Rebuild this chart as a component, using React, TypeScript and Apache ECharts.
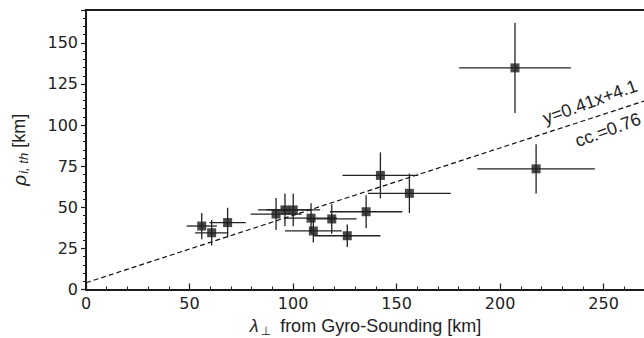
import React, { useEffect, useRef } from "react";
import * as echarts from "echarts";

const xVals = [55.9, 60.7, 68.4, 91.8, 96.1, 100.1, 108.7, 118.7, 109.8, 126.2, 135.3, 142.2, 156.2, 207.2, 217.4];
const yVals = [38.6, 34.5, 40.7, 45.9, 48.4, 48.4, 43.4, 42.9, 35.6, 32.7, 47.3, 69.4, 58.5, 134.8, 73.4];
const xErr = [7.3, 8, 8.8, 12.3, 13, 13, 12.5, 12, 13.7, 16, 17.5, 18.3, 20, 27, 28.4];
const yErr = [8, 7.7, 9, 9.7, 10, 10, 9, 9, 7, 6.8, 10, 14, 12, 27.5, 15];
const fitSlope = 0.41;
const fitIntercept = 4.1;
const fitText = "y=0.41x+4.1";
const ccText = "cc.=0.76";
const xMax = 270;
const yMax = 170;

const INK = "#1c1c1c";

export default function App() {
  const ref = useRef<HTMLDivElement>(null);
  useEffect(() => {
    document.body.style.margin = "0";
    const chart = echarts.init(ref.current!, null, { renderer: "svg" });
    const pts = xVals.map((x, i) => [x, yVals[i]]);
    const errData = xVals.map((x, i) => [x, yVals[i], xErr[i], yErr[i]]);
    const fitData = [
      [0, fitIntercept],
      [xMax, fitSlope * xMax + fitIntercept],
    ];
    const rot = (20 * Math.PI) / 180;
    chart.setOption({
      animation: false,
      backgroundColor: "#ffffff",
      grid: { left: 86, top: 10, right: -1, bottom: 48.5, containLabel: false, outerBoundsMode: "none" },
      xAxis: [
        {
          type: "value",
          min: 0,
          max: xMax,
          interval: 50,
          position: "bottom",
          axisLine: { show: true, onZero: false, lineStyle: { color: INK, width: 2 } },
          axisTick: { show: true, inside: true, length: 6, lineStyle: { color: INK, width: 1.2 } },
          minorTick: { show: true, splitNumber: 5, length: 3, lineStyle: { color: INK, width: 1 } },
          splitLine: { show: false },
          axisLabel: {
            color: "#222",
            fontSize: 16,
            fontFamily: "DejaVu Sans",
            margin: 6,
            showMaxLabel: false,
          },
          name: "{l|λ}{sub|⊥}{n| from Gyro-Sounding [km]}",
          nameLocation: "middle",
          nameGap: 25,
          nameTextStyle: {
            rich: {
              l: { fontSize: 18, fontStyle: "italic", fontFamily: "Liberation Sans", color: "#222", lineHeight: 22, verticalAlign: "middle" },
              sub: { fontSize: 12, fontFamily: "DejaVu Sans", color: "#222", lineHeight: 14, verticalAlign: "bottom", padding: [0, 4, 0, 2] },
              n: { fontSize: 18, fontFamily: "Liberation Sans", color: "#222", lineHeight: 22, verticalAlign: "middle" },
            },
          },
        },
        {
          type: "value",
          min: 0,
          max: xMax,
          position: "top",
          axisLine: { show: true, onZero: false, lineStyle: { color: INK, width: 2 } },
          axisTick: { show: false },
          axisLabel: { show: false },
          splitLine: { show: false },
        },
      ],
      yAxis: {
        type: "value",
        min: 0,
        max: yMax,
        interval: 25,
        axisLine: { show: true, onZero: false, lineStyle: { color: INK, width: 2 } },
        axisTick: { show: true, inside: false, length: 5, lineStyle: { color: INK, width: 1.2 } },
        minorTick: { show: true, splitNumber: 5, length: 3, lineStyle: { color: INK, width: 1 } },
        splitLine: { show: false },
        axisLabel: {
          color: "#222",
          fontSize: 16,
          fontFamily: "DejaVu Sans",
          margin: 8,
          showMaxLabel: false,
        },
        name: "{r|ρ}{sub|i, th}{n| [km]}",
        nameLocation: "middle",
        nameRotate: 90,
        nameGap: 56,
        nameTextStyle: {
          rich: {
            r: { fontSize: 19, fontStyle: "italic", fontFamily: "Liberation Sans", color: "#222", lineHeight: 22, verticalAlign: "middle" },
            sub: { fontSize: 13, fontStyle: "italic", fontFamily: "Liberation Sans", color: "#222", lineHeight: 14, verticalAlign: "bottom", padding: [0, 0, 0, 1] },
            n: { fontSize: 18, fontFamily: "Liberation Sans", color: "#222", lineHeight: 22, verticalAlign: "middle" },
          },
        },
      },
      series: [
        {
          type: "line",
          data: fitData,
          showSymbol: false,
          symbol: "none",
          lineStyle: { color: "#111", width: 1.2, type: [5, 3] },
          z: 1,
          silent: true,
        },
        {
          type: "custom",
          data: errData,
          encode: { x: 0, y: 1 },
          z: 2,
          renderItem: (params: any, api: any) => {
            const x = api.value(0);
            const y = api.value(1);
            const xe = api.value(2);
            const ye = api.value(3);
            const l = api.coord([x - xe, y]);
            const r = api.coord([x + xe, y]);
            const t = api.coord([x, y + ye]);
            const b = api.coord([x, y - ye]);
            const style = { stroke: "#222", lineWidth: 1.3 };
            return {
              type: "group",
              children: [
                { type: "line", shape: { x1: l[0], y1: l[1], x2: r[0], y2: r[1] }, style },
                { type: "line", shape: { x1: t[0], y1: t[1], x2: b[0], y2: b[1] }, style },
              ],
            };
          },
        },
        {
          type: "scatter",
          data: pts,
          symbol: "rect",
          symbolSize: 9,
          itemStyle: { color: INK },
          z: 3,
        },
      ],
      graphic: [
        {
          type: "text",
          x: 590,
          y: 102,
          rotation: rot,
          style: {
            text: fitText,
            fontSize: 18,
            fontFamily: "Liberation Sans",
            fill: "#222",
            align: "center",
            verticalAlign: "middle",
          },
        },
        {
          type: "text",
          x: 608,
          y: 130,
          rotation: rot,
          style: {
            text: ccText,
            fontSize: 18,
            fontFamily: "Liberation Sans",
            fill: "#222",
            align: "center",
            verticalAlign: "middle",
          },
        },
      ],
    });
    return () => chart.dispose();
  }, []);
  return <div ref={ref} style={{ width: 644, height: 338, position: "fixed", left: 0, top: 0 }} />;
}
